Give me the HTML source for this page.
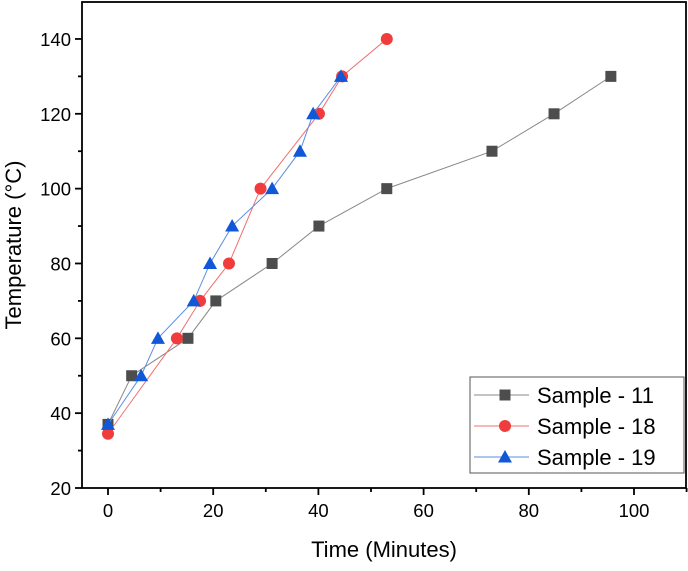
<!DOCTYPE html>
<html><head><meta charset="utf-8"><style>
body{margin:0;background:#fff;}
svg text{font-family:"Liberation Sans",Arial,sans-serif;}
</style></head><body>
<svg id="chart" width="688" height="566" viewBox="0 0 688 566" xmlns="http://www.w3.org/2000/svg"></svg>
<script>
const xTicks=[0,20,40,60,80,100];
const yTicks=[20,40,60,80,100,120,140];
const s11x=[0,4.5,15.2,20.5,31.2,40.1,53,73,84.8,95.6];
const s11y=[37,50,60,70,80,90,100,110,120,130];
const s18x=[0,13.1,17.5,23,29,40.1,44.5,53];
const s18y=[34.5,60,70,80,100,120,130,140];
const s19x=[0,6.3,9.5,16.3,19.4,23.6,31.2,36.5,39,44.3];
const s19y=[37,50,60,70,80,90,100,110,120,130];
const seriesNames=["Sample - 11","Sample - 18","Sample - 19"];

const L=82,R=686,T=2,B=488;
const X=v=>108+(v-0)*5.26;
const Y=v=>488-(v-20)*3.742;
const svg=document.getElementById('chart');
const NS='http://www.w3.org/2000/svg';
function mk(tag,attrs,parent){const e=document.createElementNS(NS,tag);for(const k in attrs)e.setAttribute(k,attrs[k]);(parent||svg).appendChild(e);return e;}

const frame=mk('rect',{x:L,y:T,width:R-L,height:B-T,fill:'none',stroke:'#000','stroke-width':1.8});



xTicks.forEach(t=>{
  const l=mk('line',{x1:X(t),x2:X(t),y1:B,y2:B+7,stroke:'#000','stroke-width':1.8});
  
  
  const m=mk('line',{x1:X(t+10),x2:X(t+10),y1:B,y2:B+4,stroke:'#000','stroke-width':1.8});
  
  
  const tx=mk('text',{x:X(t),y:B+29,'text-anchor':'middle','font-size':18.5,fill:'#000'});
  tx.textContent=t;
  
  
});
yTicks.forEach(t=>{
  const l=mk('line',{x1:L-7,x2:L,y1:Y(t),y2:Y(t),stroke:'#000','stroke-width':1.8});
  
  
  if(t+10<150){const m=mk('line',{x1:L-4,x2:L,y1:Y(t+10),y2:Y(t+10),stroke:'#000','stroke-width':1.8});
  
  }
  const tx=mk('text',{x:L-11,y:Y(t)+7,'text-anchor':'end','font-size':18.5,fill:'#000'});
  tx.textContent=t;
  
  
});
const xt=mk('text',{x:384,y:557,'text-anchor':'middle','font-size':22,fill:'#000'});
xt.textContent='Time (Minutes)';


const yt=mk('text',{x:0,y:0,'text-anchor':'middle','font-size':22,fill:'#000',transform:'translate(21,245) rotate(-90)'});
yt.textContent='Temperature (°C)';



function marker(type,cx,cy,color,parent){
  let e;
  if(type==='s')e=mk('rect',{x:cx-5.5,y:cy-5.5,width:11,height:11,fill:color},parent);
  else if(type==='c')e=mk('circle',{cx:cx,cy:cy,r:6,fill:color},parent);
  else e=mk('polygon',{points:`${cx},${cy-7} ${cx-7},${cy+5.5} ${cx+7},${cy+5.5}`,fill:color},parent);
  return e;
}
const series=[[s11x,s11y,'#4d4d4d','#888','s'],[s18x,s18y,'#f03c3c','#f07070','c'],[s19x,s19y,'#1158d8','#5b8ee0','t']];
series.forEach((s,i)=>{
  const g=mk('g',{});
  
  
  const pts=s[0].map((x,j)=>X(x)+','+Y(s[1][j])).join(' ');
  const pl=mk('polyline',{points:pts,fill:'none',stroke:s[3],'stroke-width':1},g);
  
  
  s[0].forEach((x,j)=>{
    const m=marker(s[4],X(x),Y(s[1][j]),s[2],g);
    
    
  });
});
const lg=mk('g',{});


const lb=mk('rect',{x:470,y:377,width:214,height:96,fill:'#fff',stroke:'#555','stroke-width':1},lg);


series.forEach((s,i)=>{
  const y=395+i*31;
  const e=mk('g',{},lg);
  
  
  mk('line',{x1:474,x2:529,y1:y,y2:y,stroke:s[3],'stroke-width':1},e);
  marker(s[4],505,y,s[2],e);
  const t=mk('text',{x:537,y:y+8,'font-size':22,fill:'#000'},e);
  t.textContent=seriesNames[i];
});
</script>
</body></html>
